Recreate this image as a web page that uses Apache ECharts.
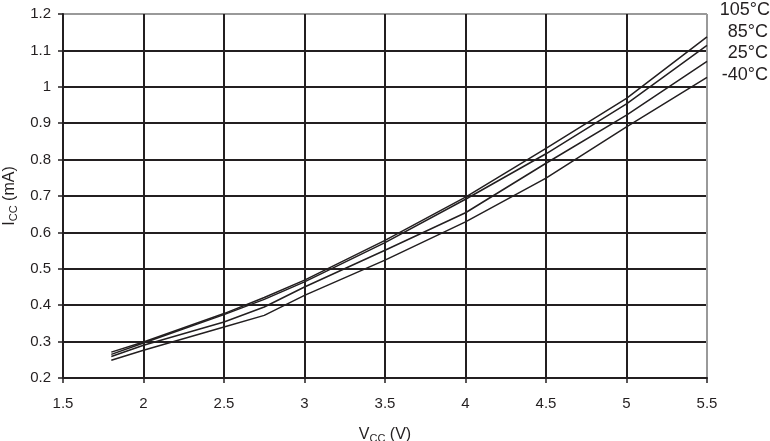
<!DOCTYPE html>
<html>
<head>
<meta charset="utf-8">
<script src="https://cdn.jsdelivr.net/npm/echarts@6/dist/echarts.min.js"></script>
<style>
  html, body { margin: 0; padding: 0; background: #fff; }
  #chart { width: 770px; height: 441px; }
</style>
</head>
<body>
<div id="chart"></div>
<script>
// supply voltage (V)
var vcc = [1.8, 2, 2.5, 2.75, 3, 3.5, 4, 4.5, 5, 5.5];
// supply current (mA) per temperature
var icc105 = [0.271, 0.299, 0.377, 0.421, 0.469, 0.578, 0.697, 0.831, 0.968, 1.137];
var icc85  = [0.265, 0.296, 0.374, 0.416, 0.464, 0.572, 0.691, 0.816, 0.953, 1.114];
var icc25  = [0.259, 0.290, 0.354, 0.395, 0.450, 0.551, 0.654, 0.790, 0.922, 1.070];
var iccM40 = [0.249, 0.276, 0.340, 0.372, 0.427, 0.524, 0.629, 0.749, 0.890, 1.026];
var tempLabels = ['105°C', '85°C', '25°C', '-40°C'];

var myChart = echarts.init(document.getElementById('chart'));

function pairs(ys) {
    return vcc.map(function (x, i) { return [x, ys[i]]; });
}

var ink = '#231f20';
var lineColorsX = [ink, ink, ink, ink, ink, ink, ink, ink, '#999'];
var lineColorsY = [ink, ink, ink, ink, ink, ink, ink, ink, ink, ink, '#999'];

var curves = [icc105, icc85, icc25, iccM40];

var titleRich = {
    n: { fontFamily: 'Liberation Sans', fontSize: 16, color: ink },
    s: { fontFamily: 'Liberation Sans', fontSize: 11, color: ink, padding: [8, 0, 0, 0] }
};

var option = {
    animation: false,
    backgroundColor: '#fff',
    grid: { left: 63, right: 63, top: 14, bottom: 63, outerBoundsMode: 'none', containLabel: false },
    xAxis: {
        type: 'value',
        min: 1.5, max: 5.5, interval: 0.5,
        name: '{n|V}{s|CC}{n| (V)}',
        nameLocation: 'middle',
        nameGap: 47,
        nameTextStyle: { rich: titleRich },
        axisLine: { show: true, lineStyle: { color: ink, width: 2 } },
        axisTick: { show: true, length: 5, lineStyle: { color: ink, width: 1.5 } },
        axisLabel: { fontFamily: 'Liberation Sans', fontSize: 15, color: ink, margin: 18 },
        splitLine: { show: true, lineStyle: { color: lineColorsX, width: 2 } }
    },
    yAxis: {
        type: 'value',
        min: 0.2, max: 1.2, interval: 0.1,
        name: '{n|I}{s|CC}{n| (mA)}',
        nameLocation: 'middle',
        nameGap: 43,
        nameRotate: 90,
        nameTextStyle: { rich: titleRich },
        axisLine: { show: true, lineStyle: { color: ink, width: 2 } },
        axisTick: { show: true, length: 5, lineStyle: { color: ink, width: 1.5 } },
        axisLabel: { fontFamily: 'Liberation Sans', fontSize: 15, color: ink, margin: 12,
            formatter: function (v) { return String(Math.round(v * 10) / 10); } },
        splitLine: { show: true, lineStyle: { color: lineColorsY, width: 2 } }
    },
    graphic: tempLabels.map(function (t, i) {
        return {
            type: 'text',
            right: i === 0 ? 0 : 2,
            top: 1 + i * 21.7,
            style: { text: t, font: '18px "Liberation Sans"', fill: ink }
        };
    }),
    series: curves.map(function (c, i) {
        return {
            name: tempLabels[i],
            type: 'line',
            data: pairs(c),
            symbol: 'none',
            lineStyle: { color: ink, width: 1.5 },
            z: 5
        };
    })
};

myChart.setOption(option);
</script>
</body>
</html>
